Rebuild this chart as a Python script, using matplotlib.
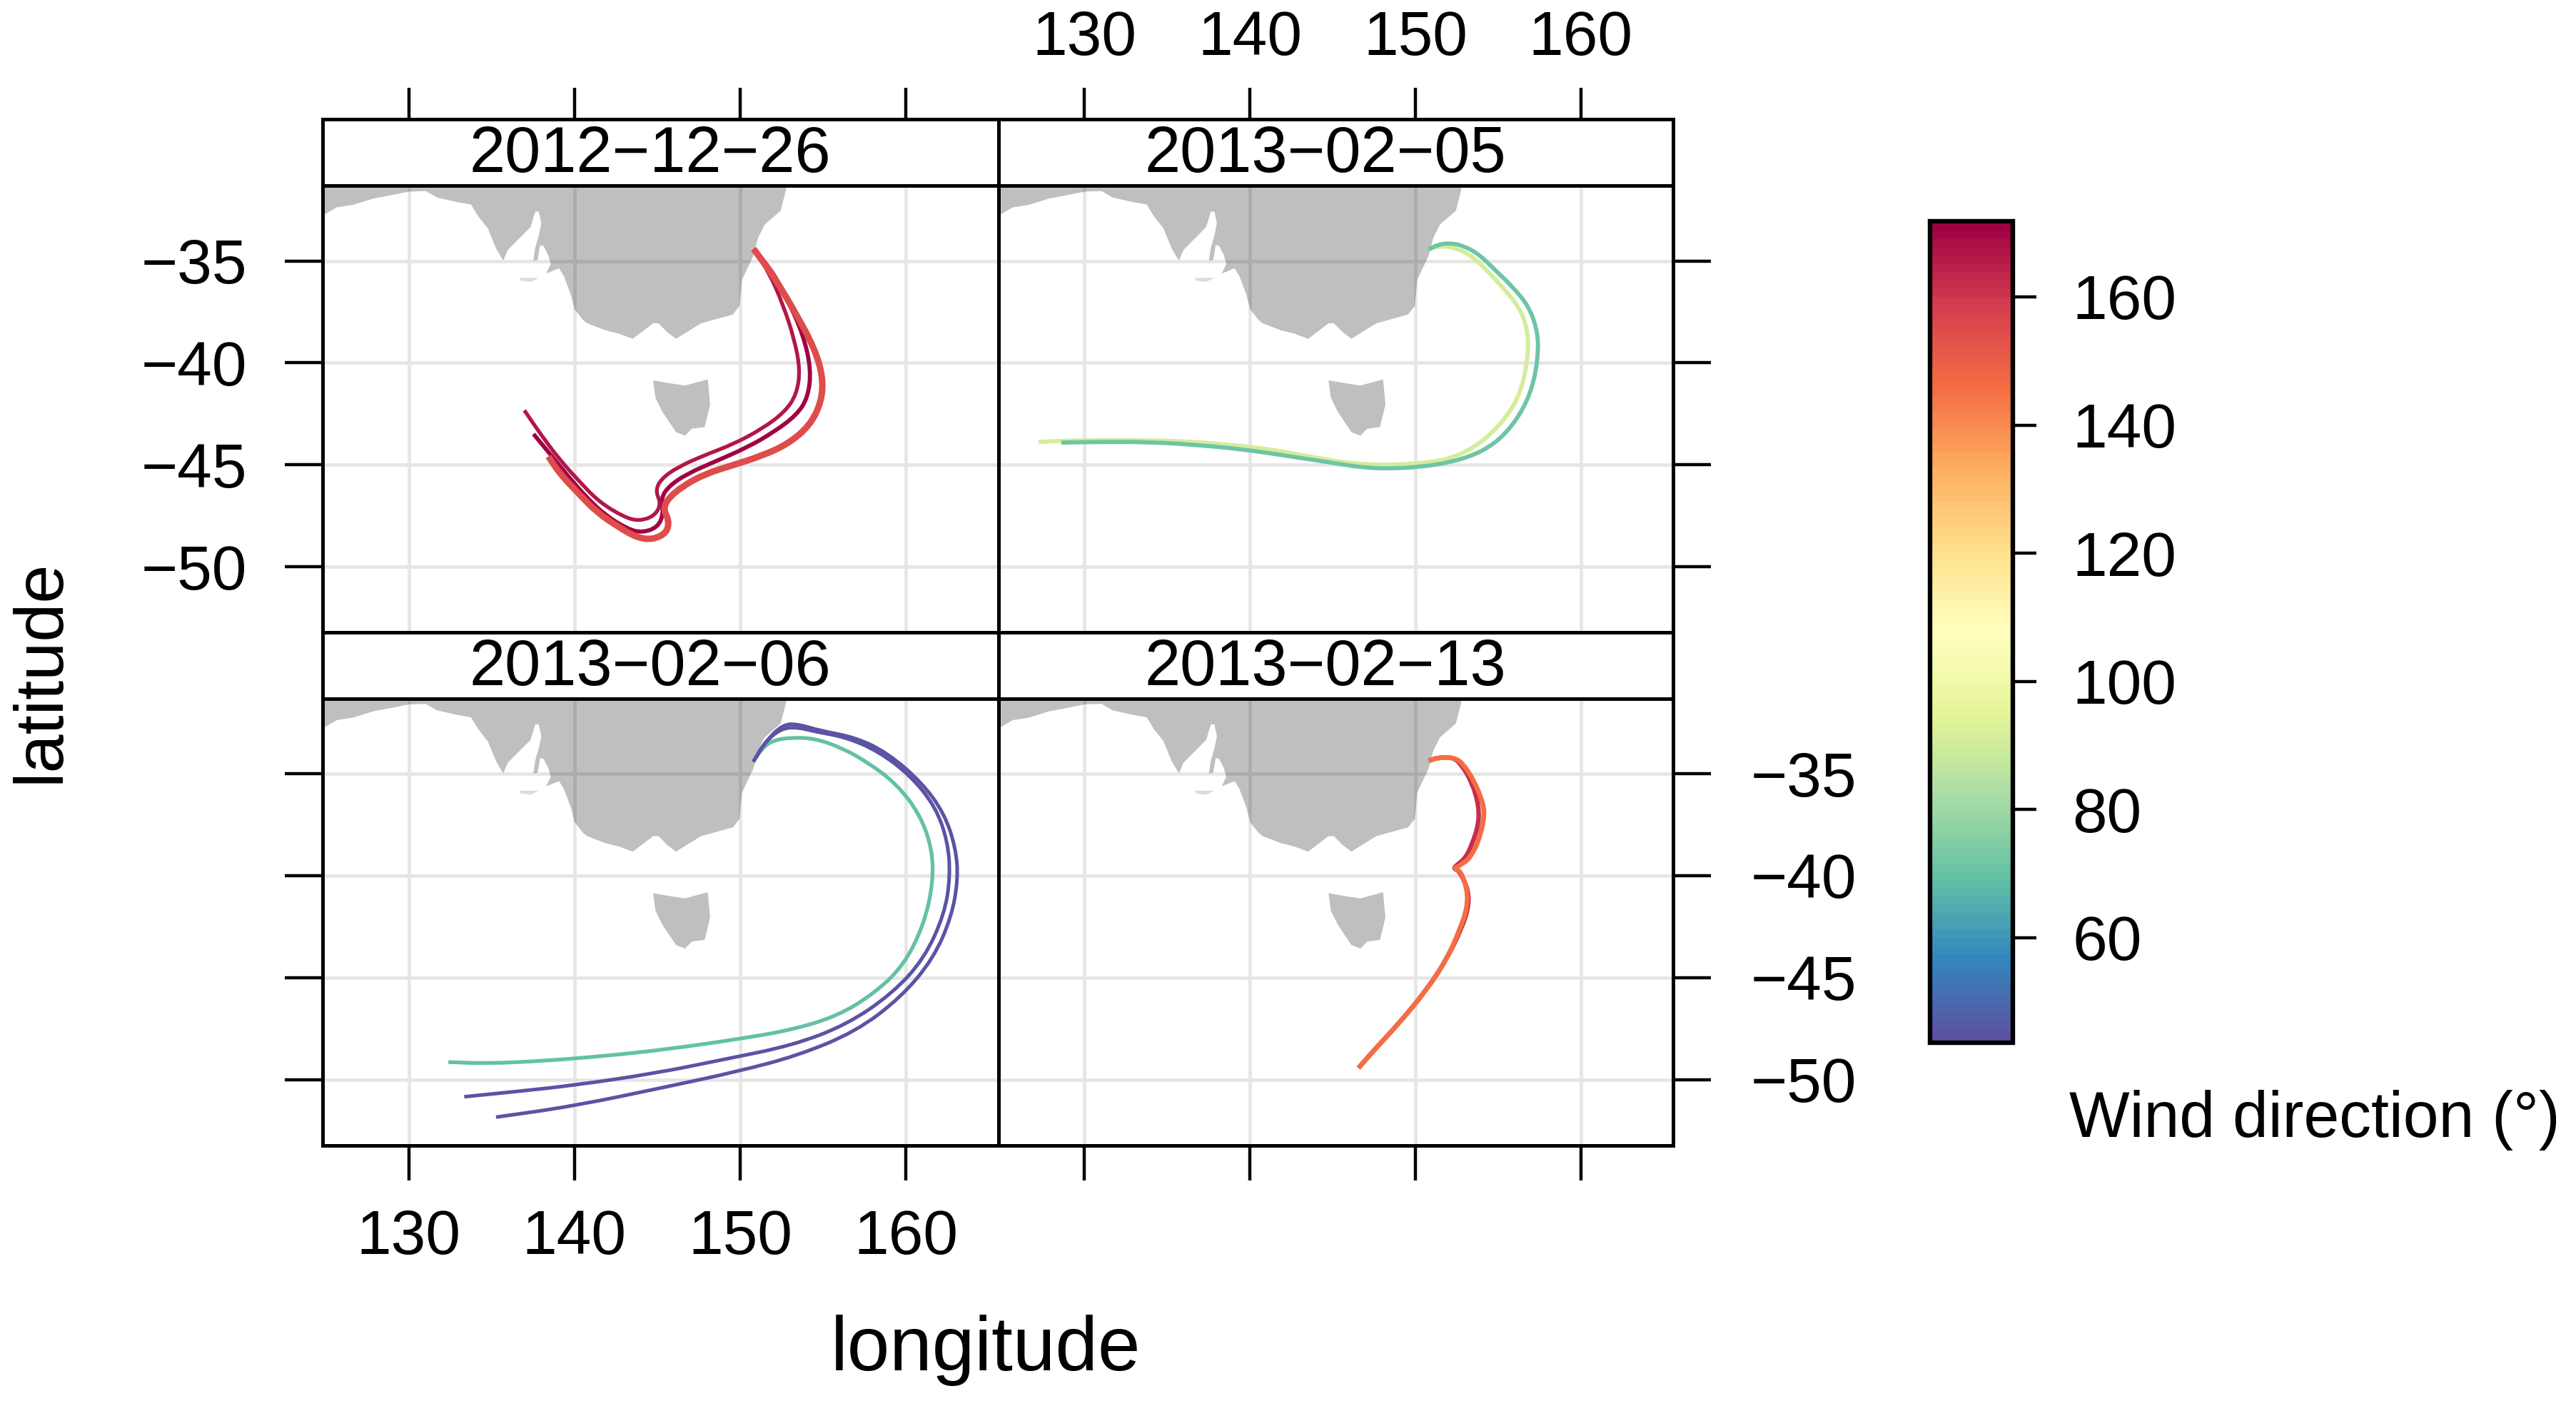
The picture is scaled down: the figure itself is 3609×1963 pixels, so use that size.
import matplotlib
matplotlib.use("Agg")
import matplotlib.pyplot as plt
from matplotlib.cm import ScalarMappable
from matplotlib.colors import Normalize, BoundaryNorm
from matplotlib.path import Path
from matplotlib.patches import PathPatch
import numpy as np

plt.rcParams['font.family'] = ['Liberation Sans', 'DejaVu Sans']

# ---- data -------------------------------------------------------------
dates = ["2012\u221212\u221226", "2013\u221202\u221205", "2013\u221202\u221206", "2013\u221202\u221213"]
lon_ticks = [130, 140, 150, 160]
lat_ticks = [-35, -40, -45, -50]
cbar_ticks = [60, 80, 100, 120, 140, 160]
wd_min, wd_max = 43.6, 171.8

land_lon = [124.78,125.66,126.62,127.86,128.96,130.0,131.02,131.70,132.90,133.76,134.19,134.77,135.27,135.70,
            135.99,136.70,137.35,137.64,137.85,138.0,137.85,137.64,137.52,137.78,137.93,138.14,138.43,138.57,
            138.29,139.07,139.36,139.79,140.01,140.51,140.77,141.87,142.69,143.52,144.75,145.08,145.58,146.13,
            147.64,149.56,149.97,150.11,150.80,151.07,151.48,152.45,152.77,152.77,124.78]
land_lat = [-32.79,-32.37,-32.25,-31.94,-31.77,-31.60,-31.57,-31.89,-32.11,-32.23,-32.81,-33.40,-34.39,-34.98,
            -34.45,-33.87,-33.34,-32.58,-32.58,-33.16,-33.75,-34.33,-34.98,-34.95,-34.22,-34.27,-34.74,-35.15,
            -35.62,-35.36,-35.74,-36.67,-37.37,-37.89,-38.06,-38.40,-38.57,-38.82,-38.06,-38.06,-38.48,-38.82,
            -38.06,-37.63,-37.21,-35.93,-34.75,-33.90,-33.22,-32.54,-31.52,-30.84,-30.84]
kangaroo_lon = [136.66,137.85,137.35,136.78]
kangaroo_lat = [-35.83,-35.83,-36.03,-35.97]
tas_lon = [144.75,145.99,146.68,148.05,148.19,147.86,147.09,146.68,146.13,145.30,144.89]
tas_lat = [-40.86,-41.03,-41.11,-40.81,-42.05,-43.15,-43.23,-43.57,-43.40,-42.39,-41.71]

# 2012-12-26
a1_lon = [150.82,152.03,153.41,154.51,155.0,154.92,154.23,152.86,151.21,149.56,147.91,146.54,145.58,145.38,145.71,145.58,144.75,143.79,142.69,141.32,140.22,139.12,138.43]
a1_lat = [-34.41,-35.76,-37.63,-39.33,-40.69,-41.88,-43.06,-44.0,-44.59,-45.02,-45.44,-46.04,-46.71,-47.22,-47.73,-48.33,-48.67,-48.58,-48.07,-47.31,-46.38,-45.44,-44.59]
a2_lon = [150.82,152.03,152.99,153.82,154.29,154.09,153.41,152.03,150.38,148.46,146.81,145.71,145.22,145.38,145.03,144.07,143.24,141.87,140.77,139.67,138.57,137.53]
a2_lat = [-34.41,-35.59,-37.12,-38.65,-40.35,-41.71,-42.56,-43.40,-44.17,-44.85,-45.44,-46.04,-46.63,-47.39,-48.07,-48.33,-48.16,-47.48,-46.63,-45.61,-44.51,-43.49]
a3_lon = [150.82,151.76,152.58,153.27,153.63,153.41,152.72,151.35,149.56,147.91,146.26,145.22,144.89,145.22,144.89,143.93,142.97,141.46,140.36,139.12,138.02,136.98]
a3_lat = [-34.41,-35.59,-37.12,-38.82,-40.35,-41.54,-42.39,-43.23,-44.0,-44.51,-45.10,-45.70,-46.29,-46.88,-47.48,-47.77,-47.56,-46.80,-45.87,-44.76,-43.57,-42.33]
# 2013-02-05
b1_lon = [150.81,151.36,152.32,153.42,154.38,155.34,156.30,156.76,156.84,156.57,156.02,154.92,153.55,151.91,150.13,148.21,146.01,143.82,141.35,138.61,135.87,133.13,130.38,128.46,127.23]
b1_lat = [-34.44,-34.27,-34.32,-34.75,-35.51,-36.36,-37.29,-38.31,-39.33,-40.86,-42.05,-43.23,-44.17,-44.76,-44.93,-45.02,-44.93,-44.63,-44.25,-44.0,-43.83,-43.79,-43.79,-43.83,-43.88]
b2_lon = [150.81,151.36,152.05,152.87,153.83,154.79,155.88,156.84,157.34,157.45,157.20,156.57,155.47,154.10,152.32,150.40,148.48,146.84,145.19,142.45,139.71,136.42,133.67,130.93,128.60]
b2_lat = [-34.44,-34.20,-34.12,-34.24,-34.66,-35.42,-36.27,-37.21,-38.31,-39.33,-40.86,-42.22,-43.49,-44.34,-44.85,-45.10,-45.19,-45.14,-44.93,-44.59,-44.25,-44.0,-43.88,-43.88,-43.91]
# 2013-02-06
c1_lon = [150.80,151.35,152.03,153.13,154.51,156.15,157.80,159.45,160.82,161.59,161.65,161.10,159.86,158.08,155.88,153.13,149.84,145.71,141.87,138.02,134.73,132.39]
c1_lat = [-34.41,-33.73,-33.35,-33.22,-33.27,-33.73,-34.49,-35.51,-36.95,-38.65,-40.35,-42.39,-44.42,-45.78,-46.88,-47.56,-48.02,-48.50,-48.84,-49.09,-49.21,-49.14]
c2_lon = [150.80,151.48,152.45,153.41,154.51,156.43,158.35,160.27,161.79,162.53,162.69,162.34,161.10,159.18,156.43,153.13,149.01,144.89,139.95,136.65,133.35]
c2_lat = [-34.41,-33.47,-32.79,-32.71,-32.93,-33.22,-33.90,-35.08,-36.61,-38.31,-40.01,-41.88,-44.08,-45.78,-47.31,-48.33,-49.01,-49.69,-50.28,-50.57,-50.84]
c3_lon = [150.80,151.48,152.58,153.54,154.78,156.98,158.90,160.96,162.33,163.02,163.16,162.75,161.65,159.73,156.98,153.41,149.84,145.99,139.95,135.27]
c3_lat = [-34.41,-33.47,-32.57,-32.57,-32.88,-33.22,-33.98,-35.42,-36.95,-38.65,-40.18,-42.05,-44.08,-45.95,-47.65,-48.84,-49.60,-50.28,-51.30,-51.84]
# 2013-02-13
d1_lon = [150.81,151.36,152.32,152.81,153.42,153.83,153.83,153.42,153.01,152.46,152.32,152.65,153.20,153.22,152.81,151.91,150.67,149.03,147.66,146.56]
d1_lat = [-34.37,-34.20,-34.20,-34.58,-35.42,-36.53,-37.46,-38.48,-39.16,-39.50,-39.67,-39.75,-40.69,-41.54,-42.56,-44.08,-45.61,-47.22,-48.41,-49.43]
d2_lon = [150.81,151.36,152.32,152.87,153.55,154.10,154.18,153.83,153.28,152.73,152.32,152.73,153.14,153.14,152.73,151.91,150.67,149.03,147.66,146.56]
d2_lat = [-34.37,-34.20,-34.20,-34.49,-35.34,-36.44,-37.12,-38.31,-39.16,-39.47,-39.67,-39.75,-40.69,-41.54,-42.56,-44.08,-45.61,-47.22,-48.41,-49.43]

# (lon, lat, wind direction, line width in pt), in drawing order
panel_lines = [
    [(a2_lon, a2_lat, 171, 4.2), (a3_lon, a3_lat, 167, 3.8), (a1_lon, a1_lat, 155, 6.5)],
    [(b1_lon, b1_lat, 91, 4.2), (b2_lon, b2_lat, 71, 4.2)],
    [(c1_lon, c1_lat, 69, 3.8), (c2_lon, c2_lat, 45, 3.6), (c3_lon, c3_lat, 45, 3.6)],
    [(d1_lon, d1_lat, 162, 4.6), (d2_lon, d2_lat, 146, 4.8)],
]

# ---- layout -----------------------------------------------------------
W, H = 3609, 1963
DPI = 100
FS = 63
FRAME = 3.6
TICKW = 3.2
GRID = '#e6e6e6'

def box(x0, y_top, x1, y_bot):
    return [x0 / W, 1 - y_bot / H, (x1 - x0) / W, (y_bot - y_top) / H]

def smooth_track(ax, lon, lat, color, lw):
    """Draw a track through the read-off points as a smooth curve in data space."""
    p = np.column_stack([lon, lat])
    mid = (p[:-1] + p[1:]) / 2
    verts = [p[0], mid[0]]
    codes = [Path.MOVETO, Path.LINETO]
    for k in range(1, len(p) - 1):
        verts += [p[k], mid[k]]
        codes += [Path.CURVE3, Path.CURVE3]
    verts.append(p[-1])
    codes.append(Path.LINETO)
    ax.add_patch(PathPatch(Path(verts, codes), fill=False, edgecolor=color, lw=lw,
                           joinstyle='round', capstyle='butt', zorder=3))

fig = plt.figure(figsize=(W / DPI, H / DPI), dpi=DPI, facecolor='white')
cmap = plt.get_cmap('Spectral_r')
norm = Normalize(wd_min, wd_max)

xs = [(451.5, 1398.5), (1398.5, 2344)]
ys = [(167, 260.5, 886), (886, 979, 1604.7)]

for i, date in enumerate(dates):
    r, c = i // 2, i % 2
    x0, x1 = xs[c]
    y0, y1, y2 = ys[r]
    sax = fig.add_axes(box(x0, y0, x1, y1))
    sax.set_xticks([]); sax.set_yticks([])
    for s in sax.spines.values():
        s.set_linewidth(FRAME)
    sax.text(0.485, 0.46, date, transform=sax.transAxes, ha='center', va='center', fontsize=65)

    ax = fig.add_axes(box(x0, y1, x1, y2))
    ax.set_xlim(124.78, 165.58)
    ax.set_ylim(-53.22, -31.32)
    ax.set_xticks(lon_ticks); ax.set_yticks(lat_ticks)
    ax.grid(True, color=GRID, lw=3.4)
    ax.set_axisbelow(True)
    ax.fill(land_lon, land_lat, color='black', alpha=0.25, lw=0, zorder=2)
    ax.fill(tas_lon, tas_lat, color='black', alpha=0.25, lw=0, zorder=2)
    ax.fill(kangaroo_lon, kangaroo_lat, color='black', alpha=0.14, lw=0, zorder=2)
    for lo, la, wd, lw in panel_lines[i]:
        smooth_track(ax, lo, la, cmap(norm(wd)), lw)
    for s in ax.spines.values():
        s.set_linewidth(FRAME); s.set_zorder(5)
    ax.tick_params(axis='x', length=35, width=TICKW, labelsize=FS, pad=29,
                   bottom=(r == 1), labelbottom=(r == 1 and c == 0), top=False, labeltop=False)
    ax.tick_params(axis='y', length=38, width=TICKW, labelsize=FS, pad=38,
                   left=(c == 0), labelleft=(c == 0 and r == 0),
                   right=(c == 1), labelright=(c == 1 and r == 1))
    if c == 1 and r == 1:
        ax.tick_params(axis='y', pad=40)
    ax.set_yticklabels([str(v).replace('-', '\u2212') for v in lat_ticks])
    if r == 0:
        # top ticks sit above the strip
        tax = sax.twiny()
        tax.set_xlim(ax.get_xlim())
        tax.set_xticks(lon_ticks)
        tax.tick_params(axis='x', length=32, width=TICKW, labelsize=FS, pad=20,
                        top=True, labeltop=(c == 1), bottom=False, labelbottom=False)
        for s in tax.spines.values():
            s.set_visible(False)

fig.text(1381 / W, 1 - 1892 / H, 'longitude', fontsize=77, ha='center', va='center')
fig.text(57 / W, 1 - 940 / H, 'latitude', fontsize=70, rotation=90, ha='center', va='center')

# ---- colour key --------------------------------------------------------
cax = fig.add_axes(box(2704, 310, 2820, 1461))
levels = np.linspace(wd_min, wd_max, 101)
cb = fig.colorbar(ScalarMappable(norm=BoundaryNorm(levels, 256), cmap=cmap), cax=cax,
                  ticks=cbar_ticks, spacing='proportional', drawedges=False)
cb.solids.set_edgecolor('face')
cb.outline.set_linewidth(FRAME + 1)
cb.ax.minorticks_off()
cb.ax.tick_params(length=24, width=TICKW, labelsize=FS, pad=36)
cb.set_ticklabels([str(v) for v in cbar_ticks])
fig.text(2899 / W, 1 - 1569 / H, 'Wind direction (\u00b0)', fontsize=64.5, ha='left', va='center')

fig.savefig('out.png', dpi=DPI)
